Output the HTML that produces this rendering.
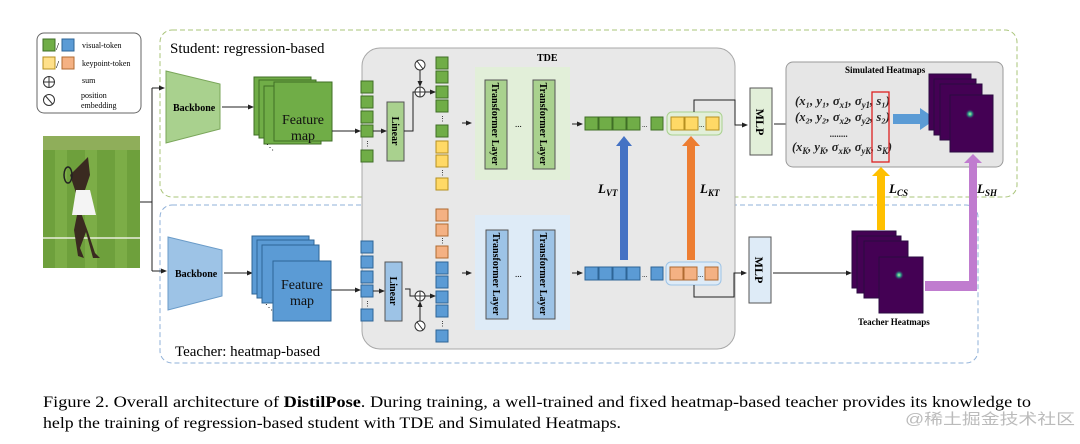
<!DOCTYPE html>
<html><head><meta charset="utf-8"><style>
html,body{margin:0;padding:0;background:#fff}
svg{display:block}
text{font-family:"Liberation Serif",serif}
</style></head><body>
<svg width="1080" height="444" viewBox="0 0 1080 444" xmlns="http://www.w3.org/2000/svg">
<defs>
<marker id="ar" markerWidth="6" markerHeight="6" refX="5" refY="3" orient="auto" markerUnits="userSpaceOnUse"><path d="M0,0.5 L6,3 L0,5.5z" fill="#222"/></marker>
<radialGradient id="spot"><stop offset="0" stop-color="#b8f0a0"/><stop offset="0.4" stop-color="#2aa08a"/><stop offset="1" stop-color="#440154" stop-opacity="0"/></radialGradient>
</defs>
<rect x="160" y="30" width="857" height="167" rx="12" fill="none" stroke="#a9c47a" stroke-dasharray="5,3"/>
<rect x="160" y="205" width="818" height="158" rx="12" fill="none" stroke="#8fb0d8" stroke-dasharray="5,3"/>
<rect x="362" y="48" width="373" height="301" rx="18" fill="#e8e8e8" stroke="#a8a8a8"/>
<text x="537" y="61" font-size="10" font-weight="bold">TDE</text>
<rect x="475" y="67" width="95" height="113" fill="#e2efd9"/>
<rect x="475" y="215" width="95" height="115" fill="#deebf7"/>
<rect x="37" y="33" width="104" height="80" rx="7" fill="#fff" stroke="#666"/>
<rect x="43" y="39" width="12" height="12" fill="#70ad47" stroke="#3f6e26"/><text x="56" y="50" font-size="11">/</text><rect x="62" y="39" width="12" height="12" fill="#5b9bd5" stroke="#2e6596"/>
<text x="82" y="48" font-size="8">visual-token</text>
<rect x="43" y="57" width="12" height="12" fill="#ffe08a" stroke="#b58f20"/><text x="56" y="68" font-size="11">/</text><rect x="62" y="57" width="12" height="12" fill="#f4b183" stroke="#b06a30"/>
<text x="82" y="66" font-size="8">keypoint-token</text>
<circle cx="49" cy="82" r="5.5" fill="none" stroke="#333"/><path d="M43.5,82h11M49,76.5v11" stroke="#333"/>
<text x="82" y="83" font-size="8">sum</text>
<circle cx="49" cy="100" r="5.5" fill="none" stroke="#333"/><path d="M45.5,96 Q49,100 52.5,104" fill="none" stroke="#333"/>
<text x="81" y="98" font-size="8">position</text><text x="81" y="108" font-size="8">embedding</text>
<rect x="43" y="136" width="97" height="132" fill="#6ea03c"/>
<rect x="43" y="136" width="97" height="14" fill="#8fae5a"/>
<g fill="#82b34c" opacity="0.7"><rect x="55" y="150" width="12" height="118"/><rect x="85" y="150" width="12" height="118"/><rect x="115" y="150" width="12" height="118"/></g>
<path d="M43,238 H140" stroke="#e8eedc" stroke-width="1.5"/>
<path d="M88,157 L90,175 L85,190 L80,210 L88,232 L95,253 L100,258 L93,258 L86,232 L80,248 L84,258 L78,256 L74,230 L78,210 L75,190 L70,175" fill="#3a2a20"/>
<path d="M76,190 L90,190 L96,215 L72,215z" fill="#f4f4f4"/>
<ellipse cx="68" cy="175" rx="4" ry="8" fill="none" stroke="#222" stroke-width="1.5"/>
<path d="M140,202 H152 M152,88 V271" stroke="#222" fill="none"/>
<path d="M152,88 H164" stroke="#222" marker-end="url(#ar)"/>
<path d="M152,271 H166" stroke="#222" marker-end="url(#ar)"/>
<path d="M166,71 L220,84 L220,129 L166,143z" fill="#a9d18e" stroke="#7aa65a"/>
<text x="173" y="111" font-size="10" font-weight="bold">Backbone</text>
<path d="M222,107 H253" stroke="#222" marker-end="url(#ar)"/>
<g fill="#70ad47" stroke="#3f6e26"><rect x="254" y="77" width="57" height="58"/><rect x="259" y="80" width="57" height="58"/><rect x="264" y="86" width="57" height="58"/><rect x="274" y="82" width="58" height="59"/></g>
<text x="303" y="124" font-size="14" text-anchor="middle" fill="#111">Feature</text><text x="303" y="140" font-size="14" text-anchor="middle" fill="#111">map</text>
<text x="266" y="150" font-size="8">⋱</text>
<path d="M332,131 H360" stroke="#222" marker-end="url(#ar)"/>
<g fill="#70ad47" stroke="#3f6e26"><rect x="361" y="81" width="12" height="12"/><rect x="361" y="96" width="12" height="12"/><rect x="361" y="111" width="12" height="12"/><rect x="361" y="125" width="12" height="12"/><rect x="361" y="150" width="12" height="12"/></g>
<text x="364" y="146" font-size="7">⋮</text>
<path d="M373,131 H386" stroke="#222" marker-end="url(#ar)"/>
<rect x="387" y="102" width="17" height="59" fill="#a9d18e" stroke="#555"/>
<text transform="translate(392,131) rotate(90)" font-size="10" font-weight="bold" text-anchor="middle">Linear</text>
<path d="M404,131 H413 V92 H415" stroke="#222" fill="none"/>
<circle cx="420" cy="92" r="5" fill="#fff" stroke="#333"/><path d="M415,92h10M420,87v10" stroke="#333"/>
<circle cx="420" cy="65" r="5" fill="#fff" stroke="#333"/><path d="M417,61 Q420,65 423,69" fill="none" stroke="#333"/>
<path d="M420,70 V86" stroke="#222" marker-end="url(#ar)"/>
<path d="M425,92 H435" stroke="#222" marker-end="url(#ar)"/>
<g fill="#70ad47" stroke="#3f6e26"><rect x="436" y="57" width="12" height="12"/><rect x="436" y="71" width="12" height="12"/><rect x="436" y="86" width="12" height="12"/><rect x="436" y="100" width="12" height="12"/><rect x="436" y="125" width="12" height="12"/></g>
<g fill="#ffd966" stroke="#b58f20"><rect x="436" y="141" width="12" height="12"/><rect x="436" y="155" width="12" height="12"/><rect x="436" y="178" width="12" height="12"/></g>
<text x="439" y="121" font-size="7">⋮</text><text x="439" y="175" font-size="7">⋮</text>
<path d="M462,123 H471" stroke="#222" marker-end="url(#ar)"/>
<g fill="#a9d18e" stroke="#555"><rect x="485" y="80" width="22" height="89"/><rect x="533" y="80" width="22" height="89"/></g>
<text transform="translate(492,124) rotate(90)" font-size="10" font-weight="bold" text-anchor="middle">Transformer Layer</text>
<text transform="translate(540,124) rotate(90)" font-size="10" font-weight="bold" text-anchor="middle">Transformer Layer</text>
<text x="515" y="127" font-size="9">...</text>
<path d="M572,124 H582" stroke="#222" marker-end="url(#ar)"/>
<g fill="#70ad47" stroke="#3f6e26"><rect x="585" y="117" width="13" height="13"/><rect x="599" y="117" width="13" height="13"/><rect x="613" y="117" width="13" height="13"/><rect x="627" y="117" width="13" height="13"/><rect x="651" y="117" width="12" height="13"/></g>
<text x="642" y="127" font-size="7">...</text>
<rect x="667" y="112" width="55" height="23" rx="5" fill="#e2efd9" stroke="#a9d18e"/>
<g fill="#ffd966" stroke="#b58f20"><rect x="671" y="117" width="13" height="13"/><rect x="685" y="117" width="13" height="13"/><rect x="706" y="117" width="13" height="13"/></g>
<text x="699" y="127" font-size="7">...</text>
<path d="M694,112 V100 H735 V125 H747" stroke="#222" fill="none" marker-end="url(#ar)"/>
<rect x="750" y="88" width="22" height="67" fill="#e2efd9" stroke="#555"/>
<text transform="translate(756,122) rotate(90)" font-size="12" font-weight="bold" text-anchor="middle">MLP</text>
<path d="M774,124 H795" stroke="#222" marker-end="url(#ar)"/>
<rect x="786" y="62" width="217" height="105" rx="7" fill="#e6e6e6" stroke="#999"/>
<text x="845" y="73" font-size="9" font-weight="bold">Simulated Heatmaps</text>
<g font-size="13" font-style="italic" font-weight="bold" fill="#222">
<text x="795" y="105" textLength="95" lengthAdjust="spacingAndGlyphs">(x₁, y₁, σ<tspan font-size="9" dy="3">x1</tspan><tspan dy="-3">, σ</tspan><tspan font-size="9" dy="3">y1</tspan><tspan dy="-3">, s₁)</tspan></text>
<text x="795" y="121" textLength="95" lengthAdjust="spacingAndGlyphs">(x₂, y₂, σ<tspan font-size="9" dy="3">x2</tspan><tspan dy="-3">, σ</tspan><tspan font-size="9" dy="3">y2</tspan><tspan dy="-3">, s₂)</tspan></text>
<text x="830" y="137" font-size="9">........</text>
<text x="792" y="151" textLength="100" lengthAdjust="spacingAndGlyphs">(x<tspan font-size="9" dy="3">K</tspan><tspan dy="-3">, y</tspan><tspan font-size="9" dy="3">K</tspan><tspan dy="-3">, σ</tspan><tspan font-size="9" dy="3">xK</tspan><tspan dy="-3">, σ</tspan><tspan font-size="9" dy="3">yK</tspan><tspan dy="-3">, s</tspan><tspan font-size="9" dy="3">K</tspan><tspan dy="-3">)</tspan></text>
</g>
<rect x="872" y="92" width="17" height="70" fill="none" stroke="#d22" stroke-width="1.3"/>
<path d="M893,114 H920 V108 L936,119 L920,130 V124 H893z" fill="#5b9bd5"/>
<g fill="#440154" stroke="#2a0a40"><rect x="929" y="74" width="42" height="56"/><rect x="934" y="79" width="42" height="56"/><rect x="940" y="84" width="42" height="56"/><rect x="950" y="95" width="43" height="57"/></g>
<circle cx="970" cy="114" r="5" fill="url(#spot)"/>
<path d="M168,237 L222,250 L222,296 L168,310z" fill="#9dc3e6" stroke="#6a9bc8"/>
<text x="175" y="277" font-size="10" font-weight="bold">Backbone</text>
<path d="M224,273 H252" stroke="#222" marker-end="url(#ar)"/>
<g fill="#5b9bd5" stroke="#2e6596"><rect x="252" y="236" width="57" height="58"/><rect x="257" y="240" width="57" height="58"/><rect x="262" y="245" width="57" height="58"/><rect x="273" y="261" width="58" height="60"/></g>
<text x="302" y="289" font-size="14" text-anchor="middle" fill="#111">Feature</text><text x="302" y="305" font-size="14" text-anchor="middle" fill="#111">map</text>
<text x="265" y="310" font-size="8">⋱</text>
<path d="M331,290 H360" stroke="#222" marker-end="url(#ar)"/>
<g fill="#5b9bd5" stroke="#2e6596"><rect x="361" y="241" width="12" height="12"/><rect x="361" y="256" width="12" height="12"/><rect x="361" y="271" width="12" height="12"/><rect x="361" y="285" width="12" height="12"/><rect x="361" y="309" width="12" height="12"/></g>
<text x="364" y="306" font-size="7">⋮</text>
<path d="M373,291 H384" stroke="#222" marker-end="url(#ar)"/>
<rect x="385" y="262" width="17" height="59" fill="#9dc3e6" stroke="#555"/>
<text transform="translate(390,291) rotate(90)" font-size="10" font-weight="bold" text-anchor="middle">Linear</text>
<path d="M405,289 H410 V296 H415" stroke="#222" fill="none"/>
<circle cx="420" cy="296" r="5" fill="#fff" stroke="#333"/><path d="M415,296h10M420,291v10" stroke="#333"/>
<circle cx="420" cy="326" r="5" fill="#fff" stroke="#333"/><path d="M417,322 Q420,326 423,330" fill="none" stroke="#333"/>
<path d="M420,321 V302" stroke="#222" marker-end="url(#ar)"/>
<path d="M425,296 H435" stroke="#222" marker-end="url(#ar)"/>
<g fill="#f4b183" stroke="#b06a30"><rect x="436" y="209" width="12" height="12"/><rect x="436" y="224" width="12" height="12"/><rect x="436" y="246" width="12" height="12"/></g>
<g fill="#5b9bd5" stroke="#2e6596"><rect x="436" y="262" width="12" height="12"/><rect x="436" y="276" width="12" height="12"/><rect x="436" y="291" width="12" height="12"/><rect x="436" y="305" width="12" height="12"/><rect x="436" y="330" width="12" height="12"/></g>
<text x="439" y="243" font-size="7">⋮</text><text x="439" y="326" font-size="7">⋮</text>
<path d="M462,273 H471" stroke="#222" marker-end="url(#ar)"/>
<g fill="#9dc3e6" stroke="#555"><rect x="486" y="230" width="22" height="89"/><rect x="533" y="230" width="22" height="89"/></g>
<text transform="translate(493,274) rotate(90)" font-size="10" font-weight="bold" text-anchor="middle">Transformer Layer</text>
<text transform="translate(540,274) rotate(90)" font-size="10" font-weight="bold" text-anchor="middle">Transformer Layer</text>
<text x="515" y="277" font-size="9">...</text>
<path d="M572,273 H582" stroke="#222" marker-end="url(#ar)"/>
<g fill="#5b9bd5" stroke="#2e6596"><rect x="585" y="267" width="13" height="13"/><rect x="599" y="267" width="13" height="13"/><rect x="613" y="267" width="13" height="13"/><rect x="627" y="267" width="13" height="13"/><rect x="651" y="267" width="12" height="13"/></g>
<text x="642" y="277" font-size="7">...</text>
<rect x="666" y="262" width="55" height="23" rx="5" fill="#deebf7" stroke="#9dc3e6"/>
<g fill="#f4b183" stroke="#b06a30"><rect x="670" y="267" width="13" height="13"/><rect x="684" y="267" width="13" height="13"/><rect x="705" y="267" width="13" height="13"/></g>
<text x="698" y="277" font-size="7">...</text>
<path d="M694,285 V297 H734 V273 H746" stroke="#222" fill="none" marker-end="url(#ar)"/>
<rect x="749" y="237" width="22" height="66" fill="#deebf7" stroke="#555"/>
<text transform="translate(755,270) rotate(90)" font-size="12" font-weight="bold" text-anchor="middle">MLP</text>
<path d="M773,273 H851" stroke="#222" marker-end="url(#ar)"/>
<g fill="#440154" stroke="#2a0a40"><rect x="852" y="231" width="44" height="57"/><rect x="857" y="236" width="44" height="57"/><rect x="864" y="241" width="44" height="57"/><rect x="879" y="257" width="44" height="56"/></g>
<circle cx="899" cy="275" r="5" fill="url(#spot)"/>
<text x="858" y="325" font-size="9" font-weight="bold">Teacher Heatmaps</text>
<path d="M620,260 V146 H616 L624,136 L632,146 H628 V260z" fill="#4472c4"/>
<path d="M687,260 V146 H682 L691,136 L700,146 H695 V260z" fill="#ed7d31"/>
<path d="M877,230 V176 H872 L881,167 L890,176 H885 V230z" fill="#ffc000"/>
<path d="M925,281 H969 V163 H964 L973,154 L982,163 H977 V291 H925z" fill="#c07ccf"/>
<g font-size="13" font-weight="bold" font-style="italic">
<text x="598" y="193">L<tspan font-size="9" dy="3">VT</tspan></text>
<text x="700" y="193">L<tspan font-size="9" dy="3">KT</tspan></text>
<text x="889" y="193">L<tspan font-size="9" dy="3">CS</tspan></text>
<text x="977" y="193">L<tspan font-size="9" dy="3">SH</tspan></text>
</g>
<text x="170" y="53" font-size="15">Student: regression-based</text>
<text x="175" y="356" font-size="15">Teacher: heatmap-based</text>
<text x="43" y="407" font-size="16" textLength="988" lengthAdjust="spacingAndGlyphs">Figure 2.  Overall architecture of <tspan font-weight="bold">DistilPose</tspan>.  During training, a well-trained and fixed heatmap-based teacher provides its knowledge to</text>
<text x="43" y="428" font-size="16" textLength="578" lengthAdjust="spacingAndGlyphs">help the training of regression-based student with TDE and Simulated Heatmaps.</text>
<text x="905" y="424" font-size="15" fill="#bbb" style="font-family:'Liberation Sans','Noto Sans CJK SC',sans-serif" textLength="170" lengthAdjust="spacingAndGlyphs">@稀土掘金技术社区</text>
</svg>
</body></html>
